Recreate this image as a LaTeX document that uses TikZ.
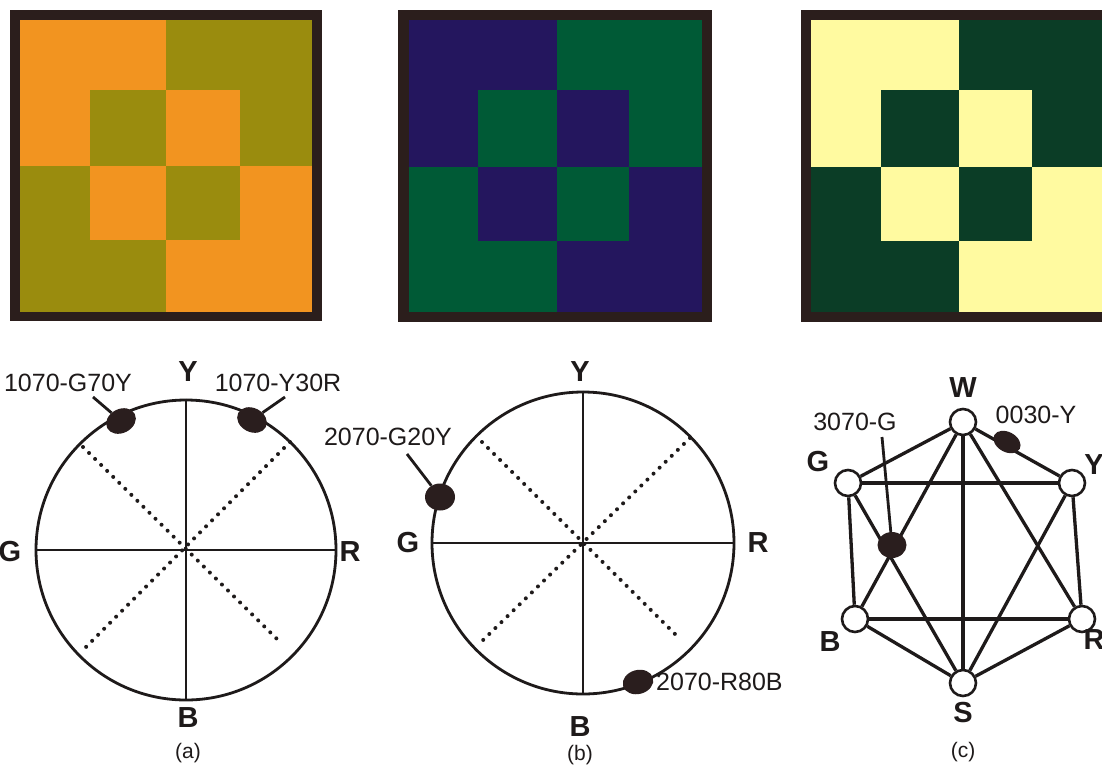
\documentclass[tikz,border=0pt]{standalone}
\usepackage{fontspec}
\setmainfont{Liberation Sans}
\usetikzlibrary{shapes.geometric}
\definecolor{frame}{HTML}{2B1E1C}
\definecolor{orng}{HTML}{F29420}
\definecolor{olive}{HTML}{9A8C0E}
\definecolor{navy}{HTML}{24165E}
\definecolor{grn}{HTML}{005A36}
\definecolor{paley}{HTML}{FFFAA0}
\definecolor{dgrn}{HTML}{0B3D26}
\definecolor{ink}{HTML}{1E1A1A}
\definecolor{blobc}{HTML}{2A1E1E}
\begin{document}
\begin{tikzpicture}[x=1pt,y=-1pt,
  lbl/.style={font=\fontsize{25}{30}\selectfont, text=ink, inner sep=0pt},
  axl/.style={font=\fontsize{29}{34}\selectfont\bfseries, text=ink, inner sep=0pt},
  capt/.style={font=\fontsize{21}{26}\selectfont, text=ink, inner sep=0pt},
  wheel/.style={circle, draw=ink, line width=2.8pt, minimum size=300pt, inner sep=0pt},
  axis/.style={draw=ink, line width=2.6pt},
  diag/.style={draw=ink, line width=4pt, dash pattern=on 0pt off 8.5pt, line cap=round},
  blob/.style={ellipse, fill=blobc, inner sep=0pt},
  lead/.style={draw=ink, line width=2.8pt},
  vnode/.style={circle, draw=ink, fill=white, line width=2.6pt, minimum size=26pt, inner sep=0pt},
  edge/.style={draw=ink, line width=3.3pt}]
\useasboundingbox (0,0) rectangle (1102,769);
\clip (0,0) rectangle (1102,769);
\fill[white] (0,0) rectangle (1102,769);

% ---------- square (a) ----------
\fill[frame] (10,10) rectangle (322,321);
\fill[orng] (20,20) rectangle (166,166);
\fill[olive] (166,20) rectangle (312,166);
\fill[olive] (20,166) rectangle (166,312);
\fill[orng] (166,166) rectangle (312,312);
\fill[olive] (90,90) rectangle (166,166);
\fill[orng] (166,90) rectangle (240,166);
\fill[orng] (90,166) rectangle (166,240);
\fill[olive] (166,166) rectangle (240,240);

% ---------- square (b) ----------
\fill[frame] (398,10) rectangle (712,322);
\fill[navy] (409,20) rectangle (557,167);
\fill[grn] (557,20) rectangle (702,167);
\fill[grn] (409,167) rectangle (557,312);
\fill[navy] (557,167) rectangle (702,312);
\fill[grn] (478,90) rectangle (557,167);
\fill[navy] (557,90) rectangle (629,167);
\fill[navy] (478,167) rectangle (557,241);
\fill[grn] (557,167) rectangle (629,241);

% ---------- square (c) ----------
\fill[frame] (801,10) rectangle (1113,322);
\fill[paley] (811,20) rectangle (959,167);
\fill[dgrn] (959,20) rectangle (1103,167);
\fill[dgrn] (811,167) rectangle (959,312);
\fill[paley] (959,167) rectangle (1103,312);
\fill[dgrn] (881,90) rectangle (959,167);
\fill[paley] (959,90) rectangle (1032,167);
\fill[paley] (881,167) rectangle (959,241);
\fill[dgrn] (959,167) rectangle (1032,241);

% ---------- circle (a) ----------
\node[wheel] (ca) at (186,550) {};
\draw[axis] (ca.north) -- (ca.south);
\draw[axis] (ca.west) -- (ca.east);
\coordinate (anw) at (83,447);
\coordinate (ase) at (278,640);
\coordinate (ane) at (290,442);
\coordinate (asw) at (83,650);
\draw[diag] (anw) -- (ase);
\draw[diag] (ane) -- (asw);
\node[axl] (aY) at (188,372) {Y};
\node[axl] (aG) at (10,552) {G};
\node[axl] (aR) at (350,552) {R};
\node[axl] (aB) at (188,718) {B};
\node[capt] (acap) at (188,753) {(a)};
\node[blob, minimum width=31pt, minimum height=24pt, rotate=27] (a1) at (121,421) {};
\node[blob, minimum width=31pt, minimum height=24pt, rotate=-27] (a2) at (252,420) {};
\coordinate (la1) at (93,397);
\coordinate (la2) at (285,397);
\draw[lead] (la1) -- (a1);
\draw[lead] (la2) -- (a2);
\node[lbl] (ta1) at (68,383) {1070-G70Y};
\node[lbl] (ta2) at (278,383) {1070-Y30R};

% ---------- circle (b) ----------
\node[wheel, minimum size=302pt] (cb) at (583,543) {};
\draw[axis] (cb.north) -- (cb.south);
\draw[axis] (cb.west) -- (cb.east);
\coordinate (bnw) at (482,442);
\coordinate (bse) at (676,635);
\coordinate (bne) at (690,438);
\coordinate (bsw) at (478,645);
\draw[diag] (bnw) -- (bse);
\draw[diag] (bne) -- (bsw);
\node[axl] (bY) at (580,372) {Y};
\node[axl] (bG) at (408,543) {G};
\node[axl] (bR) at (758,543) {R};
\node[axl] (bB) at (580,727) {B};
\node[capt] (bcap) at (580,755) {(b)};
\node[blob, minimum width=30pt, minimum height=27pt] (b1) at (440,497) {};
\node[blob, minimum width=31pt, minimum height=24pt, rotate=15] (b2) at (638,682) {};
\coordinate (lb1) at (407,454);
\draw[lead] (lb1) -- (b1);
\node[lbl] (tb1) at (388,437) {2070-G20Y};
\node[lbl, anchor=west] (tb2) at (656,682) {2070-R80B};

% ---------- hexagon (c) ----------
\node[vnode] (W) at (963,422) {};
\node[vnode] (G) at (848,483) {};
\node[vnode] (Y) at (1072,483) {};
\node[vnode] (B) at (855,619) {};
\node[vnode] (R) at (1082,619) {};
\node[vnode] (S) at (963,683) {};
\draw[edge] (W) -- (G);
\draw[edge] (W) -- (Y);
\draw[edge] (G) -- (B);
\draw[edge] (Y) -- (R);
\draw[edge] (B) -- (S);
\draw[edge] (R) -- (S);
\draw[edge] (G) -- (Y);
\draw[edge] (B) -- (R);
\draw[edge] (W) -- (S);
\draw[edge] (W) -- (B);
\draw[edge] (W) -- (R);
\draw[edge] (G) -- (S);
\draw[edge] (Y) -- (S);
\node[axl] (lW) at (963,388) {W};
\node[axl] (lG) at (818,462) {G};
\node[axl] (lY) at (1094,465) {Y};
\node[axl] (lB) at (830,642) {B};
\node[axl] (lR) at (1094,640) {R};
\node[axl] (lS) at (963,713) {S};
\node[capt] (ccap) at (963,752) {(c)};
\node[blob, minimum width=29pt, minimum height=26pt] (c1) at (892,545) {};
\node[blob, minimum width=29pt, minimum height=20pt, rotate=-29] (c2) at (1007,442) {};
\coordinate (lc1) at (882,437);
\draw[lead] (lc1) -- (c1);
\node[lbl] (tc1) at (855,422) {3070-G};
\node[lbl] (tc2) at (1036,415) {0030-Y};
\end{tikzpicture}
\end{document}
